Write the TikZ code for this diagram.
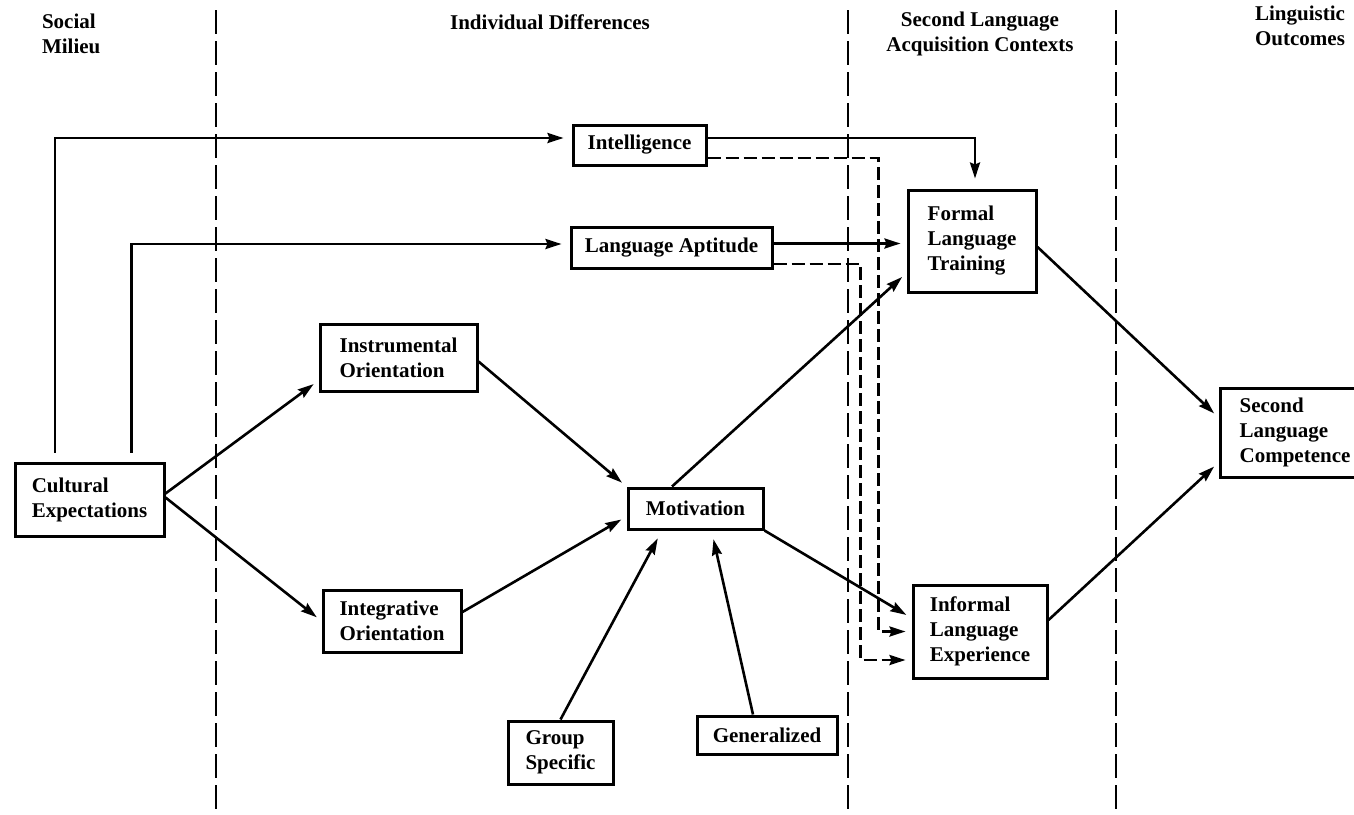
\documentclass[tikz,border=0pt]{standalone}
\usepackage{fontspec}
\setmainfont{Liberation Serif}
\usetikzlibrary{arrows.meta}

\begin{document}
\begin{tikzpicture}[x=0.5pt,y=-0.5pt,
		font=\fontsize{10.5}{12.5}\selectfont\bfseries,
		box/.style={draw,line width=1.5pt,align=left,inner sep=0pt},
		arr/.style={line width=1.3pt,-{Stealth[length=8pt,width=5pt,inset=1pt]},shorten >=3pt},
		dsh/.style={dash pattern=on 6.5pt off 2.5pt},
		sect/.style={line width=1.3pt,dash pattern=on 12pt off 3.5pt}]
		\fill[white] (0,0) rectangle (1354,814);
		\path[use as bounding box,clip] (0,0) rectangle (1354,814);
		
		\draw[sect] (216,10) -- (216,814);
		\draw[sect] (848,10) -- (848,814);
		\draw[sect] (1116,10) -- (1116,814);
		
		\node[anchor=west,align=left] (hsoc) at (35,34) {Social\\Milieu};
		\node (hind) at (550,22) {Individual Differences};
		\node[align=center] (hsla) at (980,34) {Second Language\\Acquisition Contexts};
		\node[align=center] (hout) at (1300,26) {Linguistic\\Outcomes};
		
		\node[box,minimum width=74.5pt,minimum height=36.5pt] (cult) at (89.5,499.5) {Cultural\\Expectations};
		\node[box,minimum width=78.5pt,minimum height=33.5pt] (instr) at (398.5,357.5) {Instrumental\\Orientation};
		\node[box,minimum width=69pt,minimum height=31pt] (integ) at (392,621) {Integrative\\Orientation};
		\node[box,minimum width=66.5pt,minimum height=20pt] (intel) at (639.5,145) {Intelligence};
		\node[box,minimum width=100.5pt,minimum height=20.5pt] (apt) at (671.5,247.5) {Language Aptitude};
		\node[box,minimum width=67.5pt,minimum height=20.5pt] (motiv) at (695.5,508.5) {Motivation};
		\node[box,minimum width=52.5pt,minimum height=31.5pt] (group) at (560.5,752.5) {Group\\Specific};
		\node[box,minimum width=70pt,minimum height=19pt] (gen) at (767,735) {Generalized};
		\node[box,minimum width=64pt,minimum height=51pt] (formal) at (972,241) {Formal\\Language\\Training};
		\node[box,minimum width=67pt,minimum height=46.5pt] (informal) at (980,631.5) {Informal\\Language\\Experience};
		\node[box,minimum width=75pt,minimum height=44.5pt] (compet) at (1295,432.5) {Second\\Language\\Competence};
		
		\draw[arr,shorten <=4.5pt,shorten >=4pt] ([xshift=-17.25pt]cult.north) |- ([yshift=3.5pt]intel.west);
		\draw[arr,shorten <=4.5pt,shorten >=4pt] ([xshift=21pt]cult.north) |- ([yshift=1.75pt]apt.west);
		\draw[arr] ([yshift=3pt]cult.east) -- ([yshift=6pt]instr.south west);
		\draw[arr] ([yshift=1pt]cult.east) -- (integ.west);
		\draw[arr] ([yshift=-2pt]instr.east) -- (motiv.north west);
		\draw[arr] ([yshift=4.5pt]integ.east) -- ([yshift=-4pt]motiv.west);
		\draw[arr,shorten >=4.5pt] (group.north) -- ([xshift=-16.75pt]motiv.south);
		\draw[arr,shorten >=4.5pt] ([xshift=-7pt]gen.north) -- ([xshift=8pt]motiv.south);
		\draw[arr] ([xshift=-11.75pt]motiv.north) -- ([yshift=-16pt]formal.west);
		\draw[arr] (motiv.south east) -- ([yshift=6.75pt]informal.west);
		\draw[arr,shorten >=5pt] ([yshift=3.5pt]intel.east) -| ([xshift=1.5pt]formal.north);
		\draw[arr] ([yshift=2pt]apt.east) -- ([yshift=2pt]apt.east -| formal.west);
		\draw[arr,dsh] ([yshift=-6.5pt]intel.east) -| ([xshift=-16.5pt]informal.west) -- (informal.west);
		\draw[arr,dsh] ([yshift=-8.25pt]apt.east) -| ([xshift=-25.5pt,yshift=-14.25pt]informal.west) -- ([yshift=-14.25pt]informal.west);
		\draw[arr] ([yshift=-3pt]formal.east) -- ([yshift=7.5pt]compet.west);
		\draw[arr] ([yshift=5.75pt]informal.east) -- ([yshift=-15pt]compet.west);
	\end{tikzpicture}
\end{document}
